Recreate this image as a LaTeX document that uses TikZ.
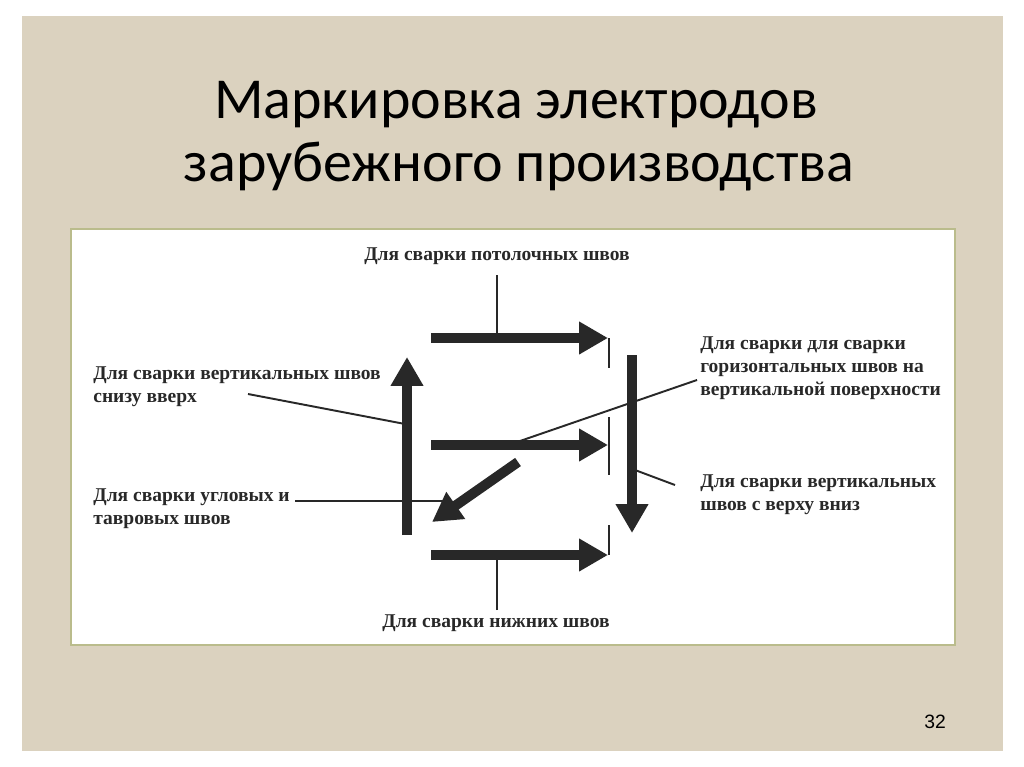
\documentclass[tikz,border=0pt]{standalone}
\usepackage{fontspec}
\setmainfont{Liberation Serif}
\newfontfamily\titlefont{Carlito}
\newfontfamily\pagefont{Liberation Sans}
\usetikzlibrary{arrows.meta,positioning}
\definecolor{linen}{RGB}{219,210,191}
\definecolor{panelrim}{RGB}{186,188,140}
\definecolor{ink}{RGB}{40,40,40}
\tikzset{
  seam arrow/.style={-{Triangle[length=5.8mm,width=6.2mm]},line width=2mm,draw=ink},
  leader/.style={line width=1.1pt,draw=ink},
  tick/.style={line width=0.8pt,draw=ink},
  caption/.style={
    font=\bfseries\fontsize{11.1}{13}\selectfont,
    text=ink,
    inner sep=0pt,
    align=left
  },
  slide title/.style={font=\titlefont\fontsize{33}{40}\selectfont,inner sep=0pt}
}
\newcommand{\seamrow}[4]{%
  \coordinate (#1 tail) at (431,#2);
  \coordinate (#1 tip) at (608,#2);
  \draw[seam arrow] (#1 tail) -- (#1 tip);
  \draw[tick] (609,#3) -- (609,#4);%
}

\begin{document}
\begin{tikzpicture}[x=0.02cm,y=-0.02cm]
  \useasboundingbox (0,0) rectangle (1024,767);
  \fill[white] (0,0) rectangle (1024,767);
  \fill[linen] (22,16) rectangle (1003,751);
  \filldraw[fill=white,draw=panelrim,line width=1.2pt] (71,229) rectangle (955,645);

  % title
  \node[slide title] (title1) at (516,105) {Маркировка электродов};
  \node[slide title] (title2) at (519,167) {зарубежного производства};

  % captions
  \node[caption] (ceiling) at (497,256) {Для сварки потолочных швов};
  \node[caption] (floor) at (496,623) {Для сварки нижних швов};
  \node[caption,anchor=west] (upward) at (93,387) {Для сварки вертикальных швов\\снизу вверх};
  \node[caption,anchor=west] (fillet) at (93,509) {Для сварки угловых и\\тавровых швов};
  \node[caption,anchor=west] (horizontal) at (700,368)
    {Для сварки для сварки\\горизонтальных швов на\\вертикальной поверхности};
  \node[caption,anchor=west] (downward) at (700,495) {Для сварки вертикальных\\швов с верху вниз};

  % horizontal seams with their stops
  \seamrow{top}{338}{338}{368}
  \seamrow{mid}{445}{417}{475}
  \seamrow{low}{555}{525}{555}

  % vertical and corner seams
  \coordinate (up tail) at (407,535);
  \coordinate (up tip) at (407,357);
  \coordinate (down tail) at (632,355);
  \coordinate (down tip) at (632,533);
  \coordinate (corner tail) at (518,462);
  \coordinate (corner tip) at (432,522);
  \draw[seam arrow] (up tail) -- (up tip);
  \draw[seam arrow] (down tail) -- (down tip);
  \draw[seam arrow] (corner tail) -- (corner tip);

  % leaders
  \coordinate (ceiling foot) at (497,275);
  \coordinate (top hit) at (497,338);
  \coordinate (floor head) at (497,610);
  \coordinate (low hit) at (497,555);
  \coordinate (upward from) at (248,394);
  \coordinate (upward to) at (405,424);
  \coordinate (fillet from) at (295,501);
  \coordinate (fillet to) at (445,501);
  \coordinate (horizontal from) at (697,380);
  \coordinate (horizontal to) at (520,441);
  \coordinate (downward from) at (675,485);
  \coordinate (downward to) at (635,470);
  \draw[leader] (ceiling foot) -- (top hit);
  \draw[leader] (floor head) -- (low hit);
  \draw[leader] (upward from) -- (upward to);
  \draw[leader] (fillet from) -- (fillet to);
  \draw[leader] (horizontal from) -- (horizontal to);
  \draw[leader] (downward from) -- (downward to);

  \node[font=\pagefont\fontsize{11}{13}\selectfont] (pagenum) at (935,722) {32};
\end{tikzpicture}
\end{document}
